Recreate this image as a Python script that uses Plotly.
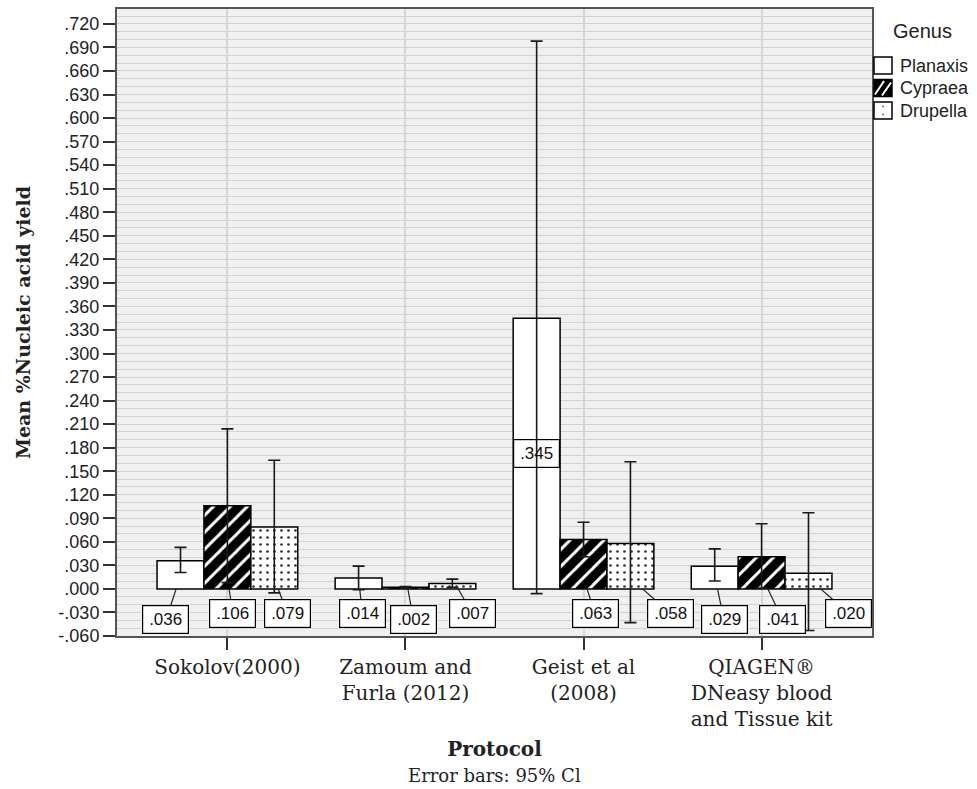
import plotly.graph_objects as go

# ---------------- data ----------------
protocols = ["Sokolov(2000)", "Zamoum and<br>Furla (2012)", "Geist et al<br>(2008)",
             "QIAGEN®<br>DNeasy blood<br>and Tissue kit"]
genera = ["Planaxis", "Cypraea", "Drupella"]

planaxis_mean = [0.036, 0.014, 0.345, 0.029]
cypraea_mean = [0.106, 0.002, 0.063, 0.041]
drupella_mean = [0.079, 0.007, 0.058, 0.020]

planaxis_ci_low = [0.021, -0.001, -0.006, 0.010]
planaxis_ci_high = [0.053, 0.029, 0.698, 0.051]
cypraea_ci_low = [0.008, 0.001, 0.041, 0.001]
cypraea_ci_high = [0.204, 0.003, 0.085, 0.083]
drupella_ci_low = [-0.005, 0.002, -0.043, -0.053]
drupella_ci_high = [0.164, 0.0125, 0.162, 0.097]

y_ticks = [-0.06, -0.03, 0.0, 0.03, 0.06, 0.09, 0.12, 0.15, 0.18, 0.21, 0.24, 0.27,
           0.30, 0.33, 0.36, 0.39, 0.42, 0.45, 0.48, 0.51, 0.54, 0.57, 0.60, 0.63,
           0.66, 0.69, 0.72]
y_tick_labels = [f"{v:.3f}".replace("0.", ".", 1) for v in y_ticks]

means = [planaxis_mean, cypraea_mean, drupella_mean]
lows = [planaxis_ci_low, cypraea_ci_low, drupella_ci_low]
highs = [planaxis_ci_high, cypraea_ci_high, drupella_ci_high]

# ---------------- style / layout ----------------
W, H = 977, 789
PL, PR, PT, PB = 117, 872, 9, 636
BARGAP = 0.21
SANS = "Liberation Sans, Arial, sans-serif"
SERIF = "DejaVu Serif, serif"

bar_styles = [
    dict(color="white", pattern=None),
    dict(color="black", pattern=dict(shape="/", fgcolor="white", bgcolor="black",
                                      size=12, solidity=0.25, fillmode="replace")),
    dict(color="white", pattern=dict(shape=".", fgcolor="#333333", bgcolor="white",
                                      size=7, solidity=0.12, fillmode="replace")),
]

# label placement (offset from category index, row)
label_dx = [[-0.345, -0.242, -0.264, -0.211],
            [0.031, 0.045, 0.065, 0.118],
            [0.337, 0.374, 0.489, 0.490]]
label_row = [["lo", "hi", "in", "lo"],
             ["hi", "lo", "hi", "lo"],
             ["hi", "hi", "hi", "hi"]]
ROW_Y = {"hi": -0.0312, "lo": -0.0395}

fig = go.Figure()
for g, name in enumerate(genera):
    m = means[g]
    st = bar_styles[g]
    marker = dict(color=st["color"], line=dict(color="black", width=1.5))
    if st["pattern"]:
        marker["pattern"] = st["pattern"]
    fig.add_trace(go.Bar(
        name=name, x=protocols, y=m, marker=marker, showlegend=False,
        error_y=dict(type="data", symmetric=False,
                     array=[h - v for h, v in zip(highs[g], m)],
                     arrayminus=[v - l for v, l in zip(m, lows[g])],
                     color="#1a1a1a", thickness=1.6, width=6),
    ))

bar_w = (1 - BARGAP) / 3
annotations = []
for g in range(3):
    for i in range(4):
        val = means[g][i]
        txt = f"{val:.3f}".replace("0.", ".", 1)
        center = i + (g - 1) * bar_w
        lx = i + label_dx[g][i]
        row = label_row[g][i]
        common = dict(text=txt, font=dict(family=SANS, size=17, color="#111"),
                      bordercolor="black", borderwidth=1.2, borderpad=2,
                      width=41, height=23, align="center", valign="middle")
        if row == "in":
            annotations.append(dict(x=lx, y=val / 2, xref="x", yref="y",
                                    showarrow=False, bgcolor="rgba(255,255,255,0)",
                                    **common))
        else:
            ax_ = center + 0.3 * (lx - center)
            annotations.append(dict(x=ax_, y=0, xref="x", yref="y",
                                    ax=lx, ay=ROW_Y[row], axref="x", ayref="y",
                                    showarrow=True, arrowhead=0, arrowwidth=1.2,
                                    arrowcolor="#222", standoff=0, startstandoff=0,
                                    bgcolor="white", **common))


def px_x(px):
    return (px - PL) / (PR - PL)


def px_y(py):
    return (PB - py) / (PB - PT)


# custom legend
annotations.append(dict(text="Genus", x=px_x(891), y=px_y(31), xref="paper", yref="paper",
                        xanchor="left", yanchor="middle", showarrow=False,
                        font=dict(family=SANS, size=20, color="#222")))
row_centers = [65.5, 88, 110.5]
shapes = []
for g, name in enumerate(genera):
    cy = row_centers[g]
    annotations.append(dict(text=name, x=px_x(898), y=px_y(cy), xref="paper", yref="paper",
                            xanchor="left", yanchor="middle", showarrow=False,
                            font=dict(family=SANS, size=18, color="#222")))
    x0, x1, y0, y1 = 874, 892, cy - 8.5, cy + 8.5
    fill = "black" if g == 1 else "white"
    shapes.append(dict(type="rect", xref="paper", yref="paper",
                       x0=px_x(x0), x1=px_x(x1), y0=px_y(y1), y1=px_y(y0),
                       fillcolor=fill, line=dict(color="black", width=1.5)))
    if g == 1:
        for (sx0, sy0, sx1, sy1) in [(875, y1 - 2, 884, y0 + 1.5), (882, y1 - 1, 891, y0 + 3)]:
            shapes.append(dict(type="line", xref="paper", yref="paper",
                               x0=px_x(sx0), y0=px_y(sy0), x1=px_x(sx1), y1=px_y(sy1),
                               line=dict(color="white", width=2)))
    if g == 2:
        for dy in (-4, 4):
            shapes.append(dict(type="rect", xref="paper", yref="paper",
                               x0=px_x(882.3), x1=px_x(883.7),
                               y0=px_y(cy + dy + 0.8), y1=px_y(cy + dy - 0.8),
                               fillcolor="#333", line=dict(width=0)))

# footnote
annotations.append(dict(text="Error bars: 95% Cl", x=0.5, y=px_y(776), xref="paper",
                        yref="paper", xanchor="center", yanchor="middle", showarrow=False,
                        font=dict(family=SERIF, size=18, color="#222")))

fig.update_layout(
    width=W, height=H,
    margin=dict(l=PL, r=W - PR, t=PT, b=H - PB, autoexpand=False),
    paper_bgcolor="white", plot_bgcolor="#f0f0f0",
    barmode="group", bargap=BARGAP, bargroupgap=0,
    annotations=annotations, shapes=shapes, showlegend=False,
)
fig.update_xaxes(
    range=[-0.62, 3.62], showgrid=True, gridcolor="#d6d6d6", gridwidth=2,
    ticks="outside", ticklen=12, tickwidth=2, tickcolor="#333",
    showline=True, linecolor="#555", linewidth=2, mirror=True,
    tickfont=dict(family=SERIF, size=20, color="#222"),
    title=dict(text="<b>Protocol</b>", font=dict(family=SERIF, size=20, color="#222"),
               standoff=12),
    zeroline=False,
)
fig.update_yaxes(
    range=[-0.06, 0.739], tickmode="array", tickvals=y_ticks, ticktext=y_tick_labels,
    showgrid=True, gridcolor="#d2d2d2", gridwidth=1,
    minor=dict(dtick=0.01, tick0=0, showgrid=True, gridcolor="#d2d2d2", gridwidth=1,
               ticks=""),
    ticks="outside", ticklen=12, tickwidth=2, tickcolor="#333",
    showline=True, linecolor="#555", linewidth=2, mirror=True,
    tickfont=dict(family=SANS, size=18, color="#222"),
    title=dict(text="<b>Mean %Nucleic acid yield</b>",
               font=dict(family=SERIF, size=19, color="#222"), standoff=23),
    zeroline=False,
)

fig.write_html("out.html", config={"displayModeBar": False},
               post_script="document.body.style.margin='0';"
                           "document.body.style.overflow='hidden';")
